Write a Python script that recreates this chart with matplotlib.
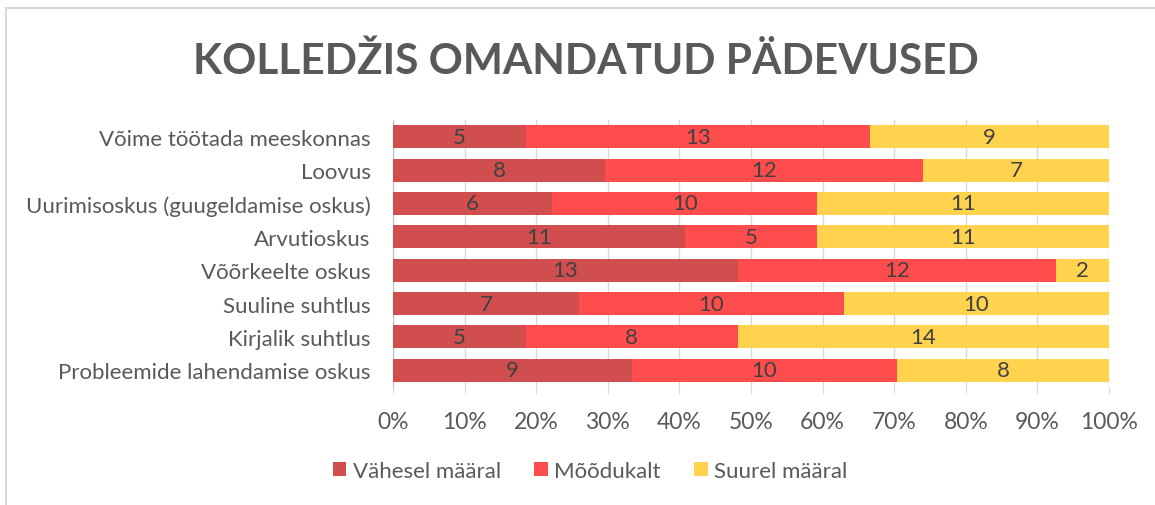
import matplotlib
matplotlib.use("Agg")
import matplotlib.pyplot as plt
import numpy as np

categories = ["Võime töötada meeskonnas", "Loovus", "Uurimisoskus (guugeldamise oskus)",
              "Arvutioskus", "Võõrkeelte oskus", "Suuline suhtlus", "Kirjalik suhtlus",
              "Probleemide lahendamise oskus"]
vahesel = [5, 8, 6, 11, 13, 7, 5, 9]
moodukalt = [13, 12, 10, 5, 12, 10, 8, 10]
suurel = [9, 7, 11, 11, 2, 10, 14, 8]
series_names = ["Vähesel määral", "Mõõdukalt", "Suurel määral"]
colors = ["#D04E4E", "#FF4C4C", "#FFD34E"]
xticks = [0, 10, 20, 30, 40, 50, 60, 70, 80, 90, 100]

plt.rcParams['font.family'] = ['Lato', 'DejaVu Sans']

fig = plt.figure(figsize=(11.55, 5.06), dpi=100)
ax = fig.add_axes([393/1155, 1 - 388/506, (1109-393)/1155, (388-121)/506])

data = np.array([vahesel, moodukalt, suurel], dtype=float)
totals = data.sum(axis=0)
pct = data / totals * 100
y = np.arange(len(categories))
left = np.zeros(len(categories))
for i in range(3):
    ax.barh(y, pct[i], left=left, height=0.69, color=colors[i],
            label=series_names[i], zorder=3)
    for j in range(len(categories)):
        ax.text(left[j] + pct[i][j] / 2, y[j], str(int(data[i][j])), ha='center', va='center',
                fontsize=16, color='#404040', zorder=4)
    left += pct[i]

ax.set_ylim(len(categories) - 0.5, -0.5)
ax.set_xlim(0, 100)
ax.set_xticks(xticks)
ax.set_xticklabels([f"{t}%" for t in xticks], fontsize=16.5, color='#595959')
ax.set_yticks(y)
ax.set_yticklabels(categories, fontsize=16, color='#595959')
ax.grid(axis='x', color='#D9D9D9', linewidth=1, zorder=0)
for s in ['top', 'right', 'bottom']:
    ax.spines[s].set_visible(False)
ax.spines['left'].set_color('#BFBFBF')
ax.tick_params(axis='y', length=0, pad=16)
ax.tick_params(axis='x', length=5, color='#D9D9D9', pad=12)

fig.text(0.507, 1 - 62/506, "KOLLEDŽIS OMANDATUD PÄDEVUSED", ha='center', va='center',
         fontsize=30.5, fontweight='bold', color='#595959')

leg = fig.legend(loc='center', bbox_to_anchor=(0.511, 1 - 472/506), ncol=3, frameon=False,
                 fontsize=16, handlelength=0.6, handleheight=0.6, handletextpad=0.3,
                 columnspacing=1.5)
for t in leg.get_texts():
    t.set_color('#595959')

# chart border
fig.add_artist(plt.Rectangle((6/1155, -0.1), 1.2, 1 - 9/506 + 0.1, transform=fig.transFigure,
                             fill=False, edgecolor='#D9D9D9', linewidth=1.5))

fig.savefig("out.png", dpi=100)
